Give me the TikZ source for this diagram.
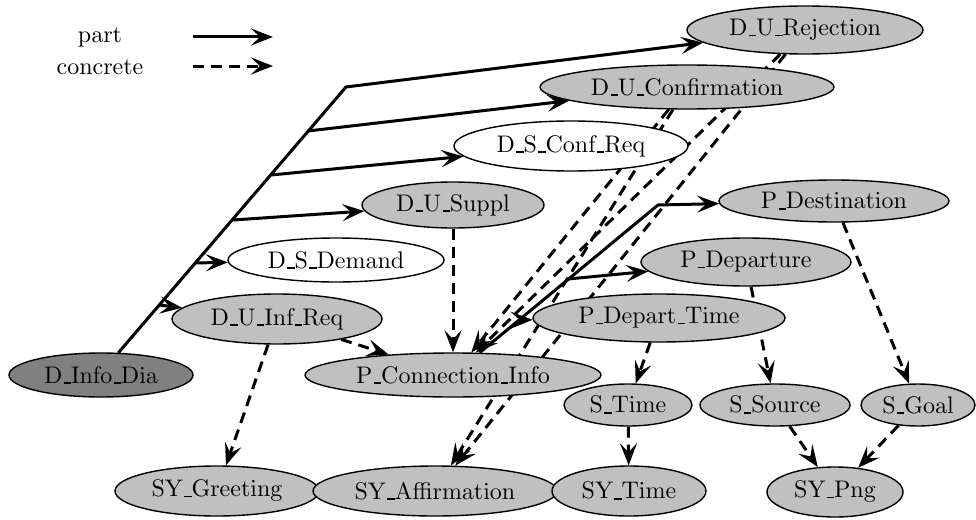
\documentclass[tikz,border=0pt]{standalone}
\usetikzlibrary{shapes.geometric,arrows.meta,backgrounds}
\definecolor{nodegray}{RGB}{192,192,192}
\definecolor{rootgray}{RGB}{128,128,128}
\font\labelfont=cmr10 at 24pt
\newcommand\us{\kern.06em\rule[-0.6pt]{.3em}{1.2pt}}
\newcommand\ctext[1]{\makebox[0pt]{#1}}
\tikzset{
  concept/.style={ellipse, draw=black, line width=1.4pt, fill=nodegray,
    inner sep=0pt, font=\labelfont},
  plainconcept/.style={concept, fill=white},
  rootconcept/.style={concept, fill=rootgray},
  legendtext/.style={inner sep=0pt, font=\labelfont},
  tipstyle/.style={-{Stealth[length=22pt,width=17pt,inset=9pt]}},
  partof/.style={line width=3pt, line join=miter, tipstyle},
  concr/.style={partof, dash pattern=on 11pt off 7pt},
}
\begin{document}
\begin{tikzpicture}[x=1pt,y=-1pt]
\useasboundingbox (0,0) rectangle (976,519);

% legend
\node[legendtext] (lp) at (100,37) {part};
\node[legendtext] (lc) at (100,67) {concrete};
\coordinate (lpa) at (193,37);
\coordinate (lpb) at (273,37);
\coordinate (lca) at (193,66);
\coordinate (lcb) at (273,66);

% dialogue concepts
\node[concept, minimum width=236pt, minimum height=48pt] (DUR) at (805,30) {\ctext{D\us U\us Rejection}};
\node[concept, minimum width=294pt, minimum height=44pt] (DUC) at (687,87) {\ctext{D\us U\us Confirmation}};
\node[plainconcept, minimum width=234pt, minimum height=50pt] (DSCR) at (571,146) {\ctext{D\us S\us Conf\us Req}};
\node[concept, minimum width=182pt, minimum height=46pt] (DUS) at (453,205) {\ctext{D\us U\us Suppl}};
\node[plainconcept, minimum width=216pt, minimum height=44pt] (DSD) at (336,260) {\ctext{D\us S\us Demand}};
\node[concept, minimum width=210pt, minimum height=50pt] (DUIR) at (277,319) {\ctext{D\us U\us Inf\us Req}};
\node[rootconcept, minimum width=184pt, minimum height=44pt] (DID) at (101,375) {\ctext{D\us Info\us Dia}};

% pragmatic concepts
\node[concept, minimum width=296pt, minimum height=44pt] (PCI) at (453,375) {\ctext{P\us Connection\us Info}};
\node[concept, minimum width=230pt, minimum height=42pt] (PD) at (834,201) {\ctext{P\us Destination}};
\node[concept, minimum width=210pt, minimum height=48pt] (PDep) at (746,262) {\ctext{P\us Departure}};
\node[concept, minimum width=252pt, minimum height=48pt] (PDT) at (659,318) {\ctext{P\us Depart\us Time}};

% semantic concepts
\node[concept, minimum width=128pt, minimum height=42pt] (ST) at (628,405) {\ctext{S\us Time}};
\node[concept, minimum width=150pt, minimum height=42pt] (SS) at (775,405) {\ctext{S\us Source}};
\node[concept, minimum width=114pt, minimum height=42pt] (SG) at (918,405) {\ctext{S\us Goal}};

% syntactic concepts
\node[concept, minimum width=204pt, minimum height=50pt] (SYG) at (217,491) {\ctext{SY\us Greeting}};
\node[concept, minimum width=244pt, minimum height=50pt] (SYA) at (435,491) {\ctext{SY\us Affirmation}};
\node[concept, minimum width=154pt, minimum height=50pt] (SYT) at (629,491) {\ctext{SY\us Time}};
\node[concept, minimum width=136pt, minimum height=50pt] (SYP) at (835,492) {\ctext{SY\us Png}};

% bends and branch points of the merged part-of edges
\coordinate (k1) at (346,87);
\coordinate (b1) at (308,131);
\coordinate (b2) at (271,175);
\coordinate (b3) at (233,220);
\coordinate (b4) at (195,263);
\coordinate (b5) at (159,305);
\coordinate (k2) at (658,205);
\coordinate (b6) at (568,279);
\coordinate (b7) at (519,320);

\begin{pgfonlayer}{background}
  % legend arrows
  \draw[partof] (lpa) -- (lpb);
  \draw[concr] (lca) -- (lcb);

  % part-of edges
  \draw[partof] (DID.52) -- (k1) -- (DUR);
  \draw[partof] (b1) -- (DUC);
  \draw[partof] (b2) -- (DSCR);
  \draw[partof] (b3) -- (DUS);
  \draw[partof] (b4) -- (DSD);
  \draw[partof] (b5) -- (DUIR);
  \draw[partof] (PCI.40) -- (k2) -- (PD);
  \draw[partof] (b6) -- (PDep);
  \draw[partof] (b7) -- (PDT);

  % concrete edges
  \draw[concr] (DUR) -- (PCI);
  \draw[concr] (DUR) -- (SYA);
  \draw[concr] (DUC) -- (PCI);
  \draw[concr] (DUC) -- (SYA);
  \draw[concr] (DUS) -- (PCI);
  \draw[concr] (DUIR) -- (PCI);
  \draw[concr] (DUIR) -- (SYG);
  \draw[concr] (PD) -- (SG);
  \draw[concr] (PDep) -- (SS);
  \draw[concr] (PDT) -- (ST);
  \draw[concr] (ST) -- (SYT);
  \draw[concr] (SS) -- (SYP);
  \draw[concr] (SG) -- (SYP);
\end{pgfonlayer}
\end{tikzpicture}
\end{document}
